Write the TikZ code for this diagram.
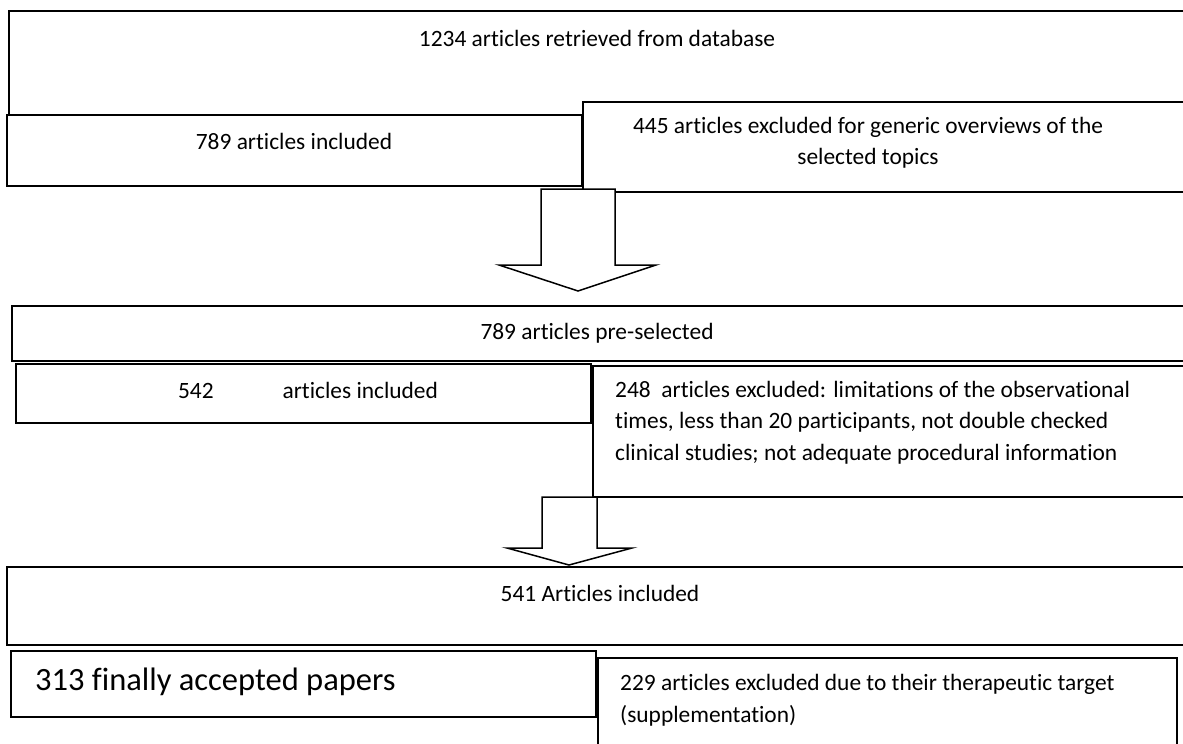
\documentclass[tikz,border=0pt]{standalone}
\usepackage{fontspec}
\setmainfont{Carlito}[RawFeature=-liga]
\usetikzlibrary{positioning}

\tikzset{
  box/.style={draw, line width=1.8pt, fill=white, anchor=north west, inner sep=0pt},
  body/.style={font=\fontsize{23.4}{31.5}\selectfont, inner sep=0pt},
  big/.style={font=\fontsize{32.5}{40}\selectfont, inner sep=0pt},
  blockarrow/.style={draw, line width=1.5pt, fill=white, line join=miter},
}

\begin{document}
\begin{tikzpicture}[x=1pt, y=-1pt]
    \clip (0,0) rectangle (1183,744);
    \fill[white] (0,0) rectangle (1183,744);

    % database search
    \node[box, minimum width=1190pt, minimum height=104pt] (retrieved) at (8,10) {};
    \node[body] (retrievedtxt) at (597,38) {1234 articles retrieved from database};
    \node[box, minimum width=575pt, minimum height=71pt] (incl) at (6,114) {};
    \node[body] (incltxt) at (294,141) {789 articles included};
    \node[box, minimum width=610pt, minimum height=90pt] (excl) at (582,101) {};
    \node[body, align=center] (excltxt) at (868,143) {445 articles excluded for generic overviews of the\\selected topics};

    \draw[blockarrow] (541,189) -- (615,189) -- (615,265) -- (656,265) -- (578,291) -- (499,265) -- (541,265) -- cycle;

    % pre-selection
    \node[box, minimum width=1190pt, minimum height=55pt] (presel) at (11,305) {};
    \node[body] (preseltxt) at (597,333) {789 articles pre-selected};
    \node[box, minimum width=575pt, minimum height=59pt] (inclb) at (15,363) {};
    \node[body] (incltxtb) at (308,390) {542\hspace{69pt}articles included};
    \node[box, minimum width=600pt, minimum height=131pt] (exclb) at (592,365) {};
    \node[body, align=left, anchor=west] (excltxtb) at (615,422.5) {248\ \ articles excluded: limitations of the observational\\times, less than 20 participants, not double checked\\clinical studies; not adequate procedural information};

    \draw[blockarrow] (542,497) -- (597,497) -- (597,548) -- (632,548) -- (569,565) -- (507,548) -- (542,548) -- cycle;

    % final selection
    \node[box, minimum width=1190pt, minimum height=78pt] (final) at (6,566) {};
    \node[body] (finaltxt) at (600,593) {541 Articles included};
    \node[box, minimum width=585pt, minimum height=66pt] (accepted) at (10,650) {};
    \node[big, anchor=west] (acceptedtxt) at (35,682) {313 finally accepted papers};
    \node[box, minimum width=579pt, minimum height=100pt] (exclc) at (597,657) {};
    \node[body, align=left, anchor=west] (excltxtc) at (620,700.5) {229 articles excluded due to their therapeutic target\\(supplementation)};
\end{tikzpicture}
\end{document}
